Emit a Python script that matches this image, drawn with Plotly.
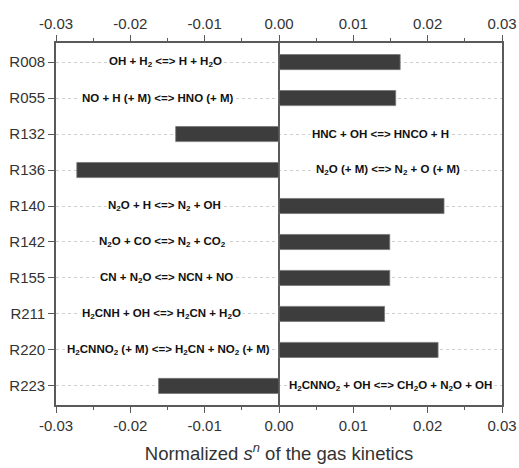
import plotly.graph_objects as go

reactions = ["R008", "R055", "R132", "R136", "R140", "R142", "R155", "R211", "R220", "R223"]
values = [0.0163, 0.0157, -0.0139, -0.0272, 0.0222, 0.0149, 0.0149, 0.0142, 0.0214, -0.0162]
equations = [
    "OH + H<sub>2</sub> &lt;=&gt; H + H<sub>2</sub>O",
    "NO + H (+ M) &lt;=&gt; HNO (+ M)",
    "HNC + OH &lt;=&gt; HNCO + H",
    "N<sub>2</sub>O (+ M) &lt;=&gt; N<sub>2</sub> + O (+ M)",
    "N<sub>2</sub>O + H &lt;=&gt; N<sub>2</sub> + OH",
    "N<sub>2</sub>O + CO &lt;=&gt; N<sub>2</sub> + CO<sub>2</sub>",
    "CN + N<sub>2</sub>O &lt;=&gt; NCN + NO",
    "H<sub>2</sub>CNH + OH &lt;=&gt; H<sub>2</sub>CN + H<sub>2</sub>O",
    "H<sub>2</sub>CNNO<sub>2</sub> (+ M) &lt;=&gt; H<sub>2</sub>CN + NO<sub>2</sub> (+ M)",
    "H<sub>2</sub>CNNO<sub>2</sub> + OH &lt;=&gt; CH<sub>2</sub>O + N<sub>2</sub>O + OH",
]
label_x = [-0.0153, -0.0163, 0.0137, 0.0147, -0.0154, -0.0157, -0.0152, -0.0158, -0.0148, 0.0150]
x_ticks = [-0.03, -0.02, -0.01, 0.00, 0.01, 0.02, 0.03]
x_tick_text = ["-0.03", "-0.02", "-0.01", "0.00", "0.01", "0.02", "0.03"]

axis_color = "#5a5a5a"
font_family = "Liberation Sans, Arial, sans-serif"

fig = go.Figure()
fig.add_trace(go.Bar(
    x=values, y=reactions, orientation="h", width=0.42,
    marker=dict(color="#3d3d3d", line=dict(color="#777777", width=0.8)),
    showlegend=False, hoverinfo="skip",
))
# invisible trace to activate top axis
fig.add_trace(go.Scatter(x=[x_ticks[0], x_ticks[-1]], y=[reactions[0], reactions[0]], xaxis="x2",
                         mode="markers", marker=dict(opacity=0), showlegend=False, hoverinfo="skip"))

for r, eq, lx in zip(reactions, equations, label_x):
    fig.add_annotation(x=lx, y=r, text="<b>" + eq + "</b>", showarrow=False,
                       font=dict(family=font_family, size=11.5, color="#111111"),
                       bgcolor="white", borderpad=1, xref="x", yref="y")

xaxis_common = dict(
    range=[-0.03, 0.03], tickvals=x_ticks, ticktext=x_tick_text, automargin=False,
    showline=True, linecolor=axis_color, linewidth=1.6,
    ticks="outside", ticklen=6, tickwidth=1.3, tickcolor=axis_color,
    minor=dict(ticks="outside", ticklen=3, tickwidth=1.3, tickcolor=axis_color, dtick=0.005, tick0=0, showgrid=False),
    showgrid=False, tickfont=dict(family=font_family, size=15, color="#333333"),
)

fig.update_layout(
    width=519, height=468,
    margin=dict(l=56, r=17, t=43, b=63),
    plot_bgcolor="white", paper_bgcolor="white",
    xaxis=dict(**xaxis_common, zeroline=True, zerolinecolor=axis_color, zerolinewidth=1.6,
               title=dict(text="Normalized <i>s<sup>n</sup></i> of the gas kinetics",
                          font=dict(family=font_family, size=18.5, color="#333333"), standoff=14)),
    xaxis2=dict(**xaxis_common, overlaying="x", side="top", zeroline=False, anchor="y"),
    yaxis=dict(
        categoryorder="array", categoryarray=reactions, automargin=False,
        range=[9.53, -0.53], autorange=False,
        showline=True, mirror=True, linecolor=axis_color, linewidth=1.6,
        ticks="outside", ticklen=6, tickwidth=1.3, tickcolor=axis_color,
        showgrid=True, gridcolor="#cfcfcf", gridwidth=0.7, griddash="dot",
        tickfont=dict(family=font_family, size=15, color="#333333"),
    ),
)

fig.write_html("out.html", config={"displayModeBar": False},
               post_script="document.body.style.margin='0';document.body.style.overflow='hidden';")
